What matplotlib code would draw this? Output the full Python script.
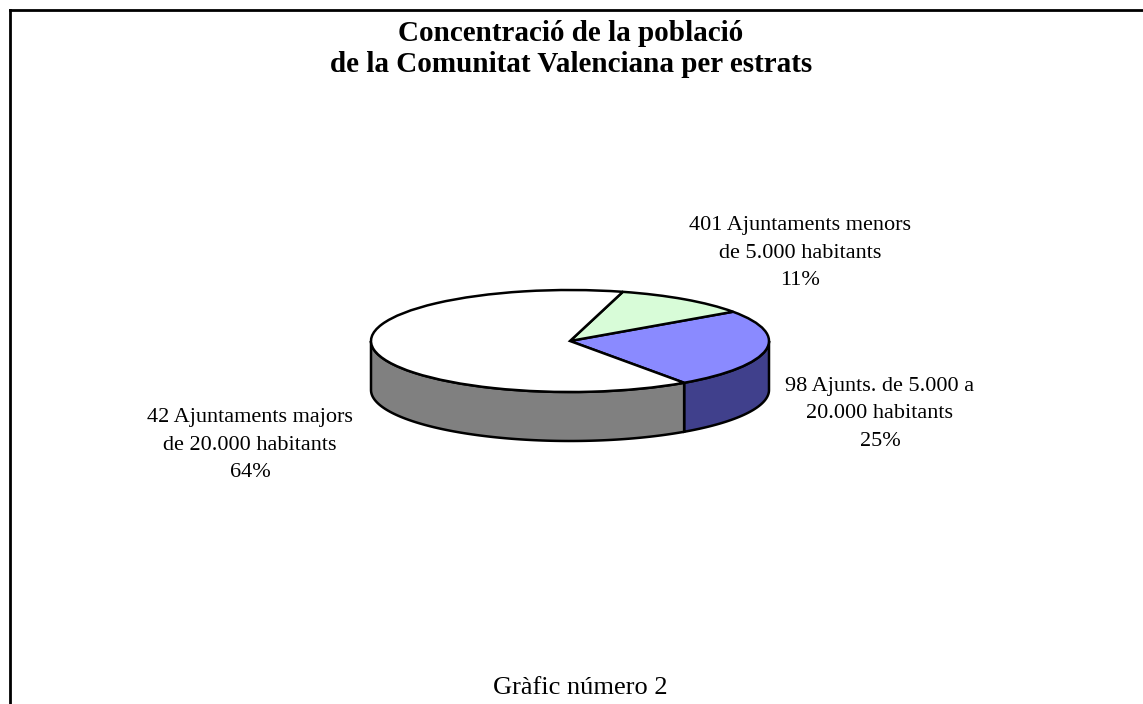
import numpy as np
import matplotlib.pyplot as plt
from matplotlib.patches import Wedge, Polygon

# slices, counter-clockwise starting at the bottom right
labels = ['98 Ajunts. de 5.000 a\n20.000 habitants',
          '401 Ajuntaments menors\nde 5.000 habitants',
          '42 Ajuntaments majors\nde 20.000 habitants']
percents = [25, 11, 64]
top_colors = ['#8a8aff', '#d8fcd8', '#ffffff']
side_colors = ['#40408c', '#c0e8c0', '#808080']
start_angle = -55.0

plt.rcParams['font.family'] = ['Liberation Serif', 'DejaVu Serif']

W, H = 1143, 704
fig = plt.figure(figsize=(W / 100, H / 100), dpi=100)

# pie geometry in pixels (centre, semi axes, depth)
cx, cy, a, b, depth = 570, 341, 199, 51, 49
ax = fig.add_axes([0, 0, 1, 1])
ax.set_xlim(-cx / a, (W - cx) / a)
ax.set_ylim(-(H - cy) / b, cy / b)
ax.axis('off')
d = depth / b

angles = start_angle + np.cumsum([0] + percents) * 3.6
# side walls (front half only)
for i in range(len(percents)):
    t0, t1 = angles[i], angles[i + 1]
    for off in (0, 360, -360):
        s0, s1 = max(t0 + off, 180), min(t1 + off, 360)
        if s1 > s0:
            t = np.radians(np.linspace(s0, s1, 100))
            xs = np.concatenate([np.cos(t), np.cos(t[::-1])])
            ys = np.concatenate([np.sin(t), np.sin(t[::-1]) - d])
            ax.add_patch(Polygon(np.column_stack([xs, ys]), closed=True,
                                 facecolor=side_colors[i], edgecolor='black',
                                 linewidth=1.8, zorder=1))
# top faces
for i in range(len(percents)):
    ax.add_patch(Wedge((0, 0), 1, angles[i], angles[i + 1],
                       facecolor=top_colors[i], edgecolor='black',
                       linewidth=1.8, zorder=2))

# labels
label_pos = [(880, 414), (800, 253), (250, 445)]
for lab, p, (x, y) in zip(labels, percents, label_pos):
    fig.text(x / W, 1 - y / H, f'{lab}\n{p}%', ha='center', va='center',
             fontsize=16, linespacing=1.6)

fig.text(571 / W, 1 - 49 / H,
         'Concentració de la població\nde la Comunitat Valenciana per estrats',
         ha='center', va='center', fontsize=21, fontweight='bold',
         linespacing=1.15)
fig.text(580 / W, 1 - 688 / H, 'Gràfic número 2', ha='center', va='center',
         fontsize=19)

# frame (top and left only visible)
fig.add_artist(plt.Line2D([10 / W, 1], [1 - 10 / H, 1 - 10 / H],
                          color='black', linewidth=2))
fig.add_artist(plt.Line2D([10 / W, 10 / W], [0, 1 - 10 / H],
                          color='black', linewidth=2))

fig.savefig('out.png', dpi=100)
